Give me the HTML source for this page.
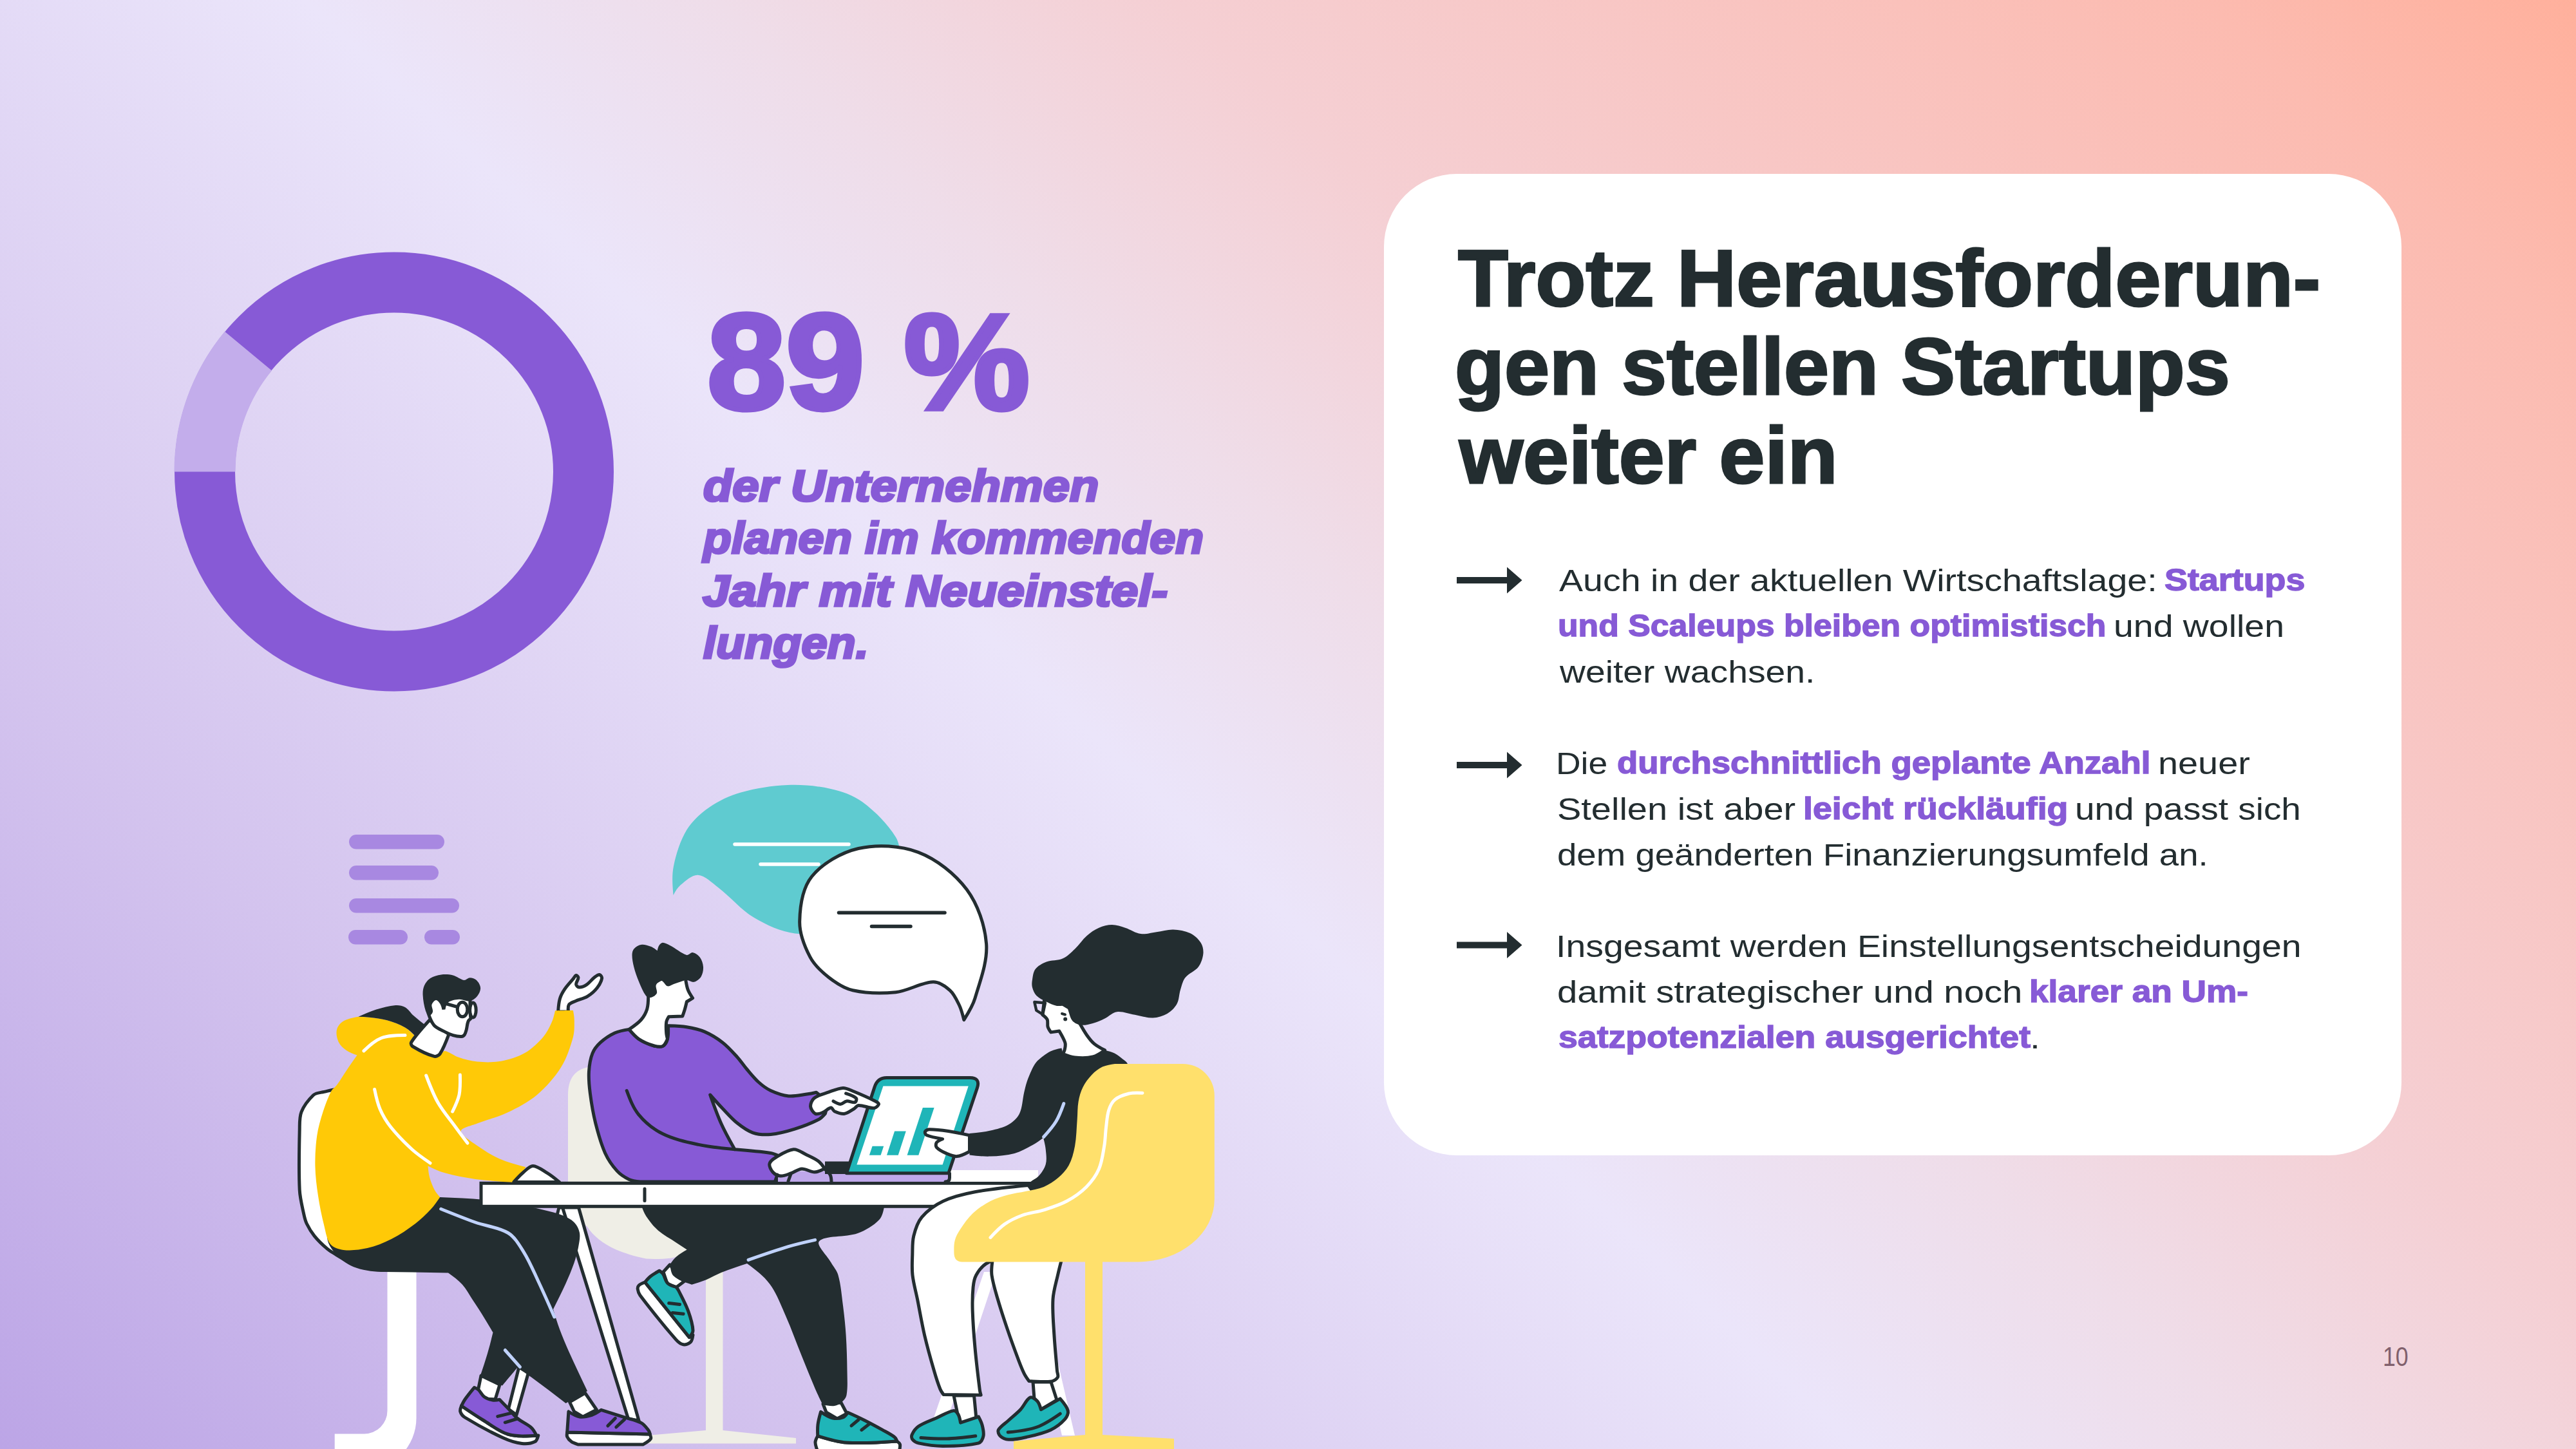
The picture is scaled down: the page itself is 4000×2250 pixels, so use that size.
<!DOCTYPE html>
<html lang="de"><head><meta charset="utf-8"><title>Slide 10</title>
<style>
html,body{margin:0;padding:0;}
body{width:4000px;height:2250px;overflow:hidden;position:relative;font-family:"Liberation Sans",sans-serif;
background:linear-gradient(43deg,#bca5e6 0%,#d3c3ee 20%,#ebe5fa 45%,#efdde9 55%,#f5cfd3 66%,#f9c4c0 80%,#fcbbb0 91%,#ffb09c 100%);}
.card{position:absolute;left:2149px;top:270px;width:1580px;height:1524px;border-radius:113px;background:#fff;}
.t{position:absolute;white-space:nowrap;transform-origin:0 50%;display:block;}
svg{position:absolute;left:0;top:0;}
</style></head><body>
<div class="card"></div>
<svg width="4000" height="2250" viewBox="0 0 4000 2250">
<circle cx="612" cy="732.5" r="294" fill="none" stroke="#875ad6" stroke-width="94"/><path d="M318 732.5A294 294 0 0 1 385.5 545.1" fill="none" stroke="#c3adeb" stroke-width="95"/>
<path d="M2262 896 h82 v10 h-82z" fill="#232d30"/><path d="M2340 880.5 L2363.5 901 L2340 921.5 z" fill="#232d30"/><path d="M2262 1183 h82 v10 h-82z" fill="#232d30"/><path d="M2340 1167.5 L2363.5 1188 L2340 1208.5 z" fill="#232d30"/><path d="M2262 1462.5 h82 v10 h-82z" fill="#232d30"/><path d="M2340 1447 L2363.5 1467.5 L2340 1488 z" fill="#232d30"/>
<rect x="542" y="1296" width="148" height="22.5" rx="11.2" fill="#a888e1"/>
<rect x="542" y="1344" width="139" height="22.5" rx="11.2" fill="#a888e1"/>
<rect x="542" y="1395" width="171" height="22.5" rx="11.2" fill="#a888e1"/>
<rect x="541" y="1444" width="92" height="22.5" rx="11.2" fill="#a888e1"/>
<rect x="659" y="1444" width="55" height="22.5" rx="11.2" fill="#a888e1"/>
<path d="M1045.5 1390C1044.3 1374.7 1043 1359.5 1046 1345C1050 1325.7 1056.3 1305.3 1066.4 1288.6C1074.7 1274.9 1087.9 1263 1101.2 1253.8C1115.9 1243.6 1133.1 1235.5 1150.4 1230.6C1173.7 1223.9 1198.6 1220 1222.9 1219C1245.2 1218.1 1268.3 1220.1 1290 1225C1307 1228.8 1325 1234.8 1338.8 1245.1C1358.7 1259.9 1378.5 1279.4 1391 1300.1C1397.6 1311.1 1398.7 1327.3 1396 1340C1391.7 1360.6 1384.3 1385.1 1370 1400C1352.3 1418.4 1324.8 1431 1300 1440C1279.6 1447.4 1255.7 1451.9 1234.5 1449.4C1212.6 1446.8 1190 1436.3 1170.7 1424.8C1150.4 1412.7 1134.7 1392.9 1115.7 1378.4C1105.8 1370.9 1094.5 1359.5 1083.8 1358.7C1075 1358 1064.8 1367.6 1057 1374C1052 1378.1 1048.8 1384 1045.5 1390Z" fill="#5fcbd0"/>
<path d="M1141 1311L1318 1311" stroke="#ffffff" stroke-width="5.5" stroke-linecap="round" fill="none"/>
<path d="M1181 1342L1271 1342" stroke="#ffffff" stroke-width="5.5" stroke-linecap="round" fill="none"/>
<path d="M1241.7 1430.6C1242.2 1407.5 1246.6 1378.4 1260.6 1361C1277 1340.7 1306.8 1323.5 1333 1317.5C1361.9 1310.9 1398.1 1312.8 1425.8 1323.3C1454.2 1334.1 1483 1356.9 1501.2 1381.3C1518.3 1404.3 1529.4 1436.8 1531.6 1465.4C1533.7 1493 1522.1 1522.6 1514 1550C1510.5 1562 1503.6 1572.8 1496.8 1583.6C1494.9 1575.8 1493 1568.1 1489.6 1561C1485.7 1552.8 1481.7 1543.6 1475.1 1537.8C1468.1 1531.6 1458.2 1524.5 1449 1524.8C1430.1 1525.5 1410.7 1538.6 1391 1540.7C1369.1 1543 1345.5 1542.5 1324.3 1537.8C1310.7 1534.8 1297.8 1526.2 1286.7 1517.5C1275.6 1508.8 1264.1 1498.1 1257.7 1485.7C1249.1 1469.1 1241.3 1449 1241.7 1430.6Z" fill="#ffffff" stroke="#232d30" stroke-width="5" stroke-linejoin="round" stroke-linecap="round"/>
<path d="M1302.5 1417.3L1467 1417.3" stroke="#232d30" stroke-width="5.5" stroke-linecap="round" fill="none"/>
<path d="M1353.5 1438.5L1414 1438.5" stroke="#232d30" stroke-width="5.5" stroke-linecap="round" fill="none"/>
<path d="M530 1694C523.6 1688.2 509.8 1694.5 500 1696C495.4 1696.7 489.9 1697.4 486.6 1700.5C479.2 1707.6 471.8 1717 468 1726.6C464.7 1735 465.4 1745.2 465.2 1754.5C464.5 1785.5 463.7 1816.8 465.2 1847.7C465.8 1860.3 469.1 1872.7 471.7 1885C472.8 1890.1 473.9 1895.3 476.2 1900C479.5 1906.8 483.5 1913.4 488.3 1919.3C494 1926.3 500.7 1932.7 507.6 1938.6C512 1942.4 517.1 1945.2 522 1948.3C529.6 1953 537.3 1957.5 545 1962C545 1962 600 1900 600 1900C600 1900 560 1750 560 1750C551.8 1728.1 543.6 1706.2 530 1694Z" fill="#ffffff" stroke="#232d30" stroke-width="5" stroke-linejoin="round" stroke-linecap="round"/>
<path d="M601.5 1960L646.5 1960L646.5 2202A81 81 0 0 1 565.5 2283L519.7 2283L519.7 2226.5L565.5 2226.5A36 36 0 0 0 601.5 2190.5Z" fill="#fff"/>
<path d="M882 1700Q882 1656 926 1656L1100 1656L1100 1945L1066.7 1940.6C1058 1949 1049 1953 1040.6 1953.7C1030 1955 1015 1955.5 1003.3 1954.6C985 1951 970 1946 956.8 1940.6C935 1930 922 1920 912 1905C895 1890 882 1878 882 1850Z" fill="#efeee6"/>
<rect x="1096" y="1940" width="26.5" height="285" fill="#efeee6"/>
<path d="M1005 2229L1096 2221L1122.5 2221L1236 2233L1236 2241.5L1005 2241.5Z" fill="#efeee6"/>
<path d="M868 1875L893 1875L802 2197L789.5 2188Z" fill="#ffffff" stroke="#232d30" stroke-width="5" stroke-linejoin="round" stroke-linecap="round"/>
<path d="M873.5 1875L898.5 1875L992 2206L975.5 2203Z" fill="#ffffff" stroke="#232d30" stroke-width="5" stroke-linejoin="round" stroke-linecap="round"/>
<path d="M747 2136L742.5 2158L752 2172L769 2173L776 2150Z" fill="#ffffff" stroke="#232d30" stroke-width="5" stroke-linejoin="round" stroke-linecap="round"/>
<path d="M716.5 2183C715.2 2186.2 714 2189.3 714.8 2192C715.8 2195.3 718.8 2199 722 2201C741 2212.6 761.1 2223.5 781.4 2232.8C790.5 2237 800.6 2240.3 810.4 2241.5C817 2242.3 825.2 2241.3 830.7 2238.6C833.6 2237.2 834.7 2233.1 835.8 2229C819.6 2230.1 803.4 2231.1 788.7 2227C774.8 2223.1 762.7 2212.7 750 2205C738.6 2198.1 727.5 2190.5 716.5 2183Z" fill="#ffffff" stroke="#232d30" stroke-width="5" stroke-linejoin="round" stroke-linecap="round"/>
<path d="M736.5 2154.5C731.5 2160.6 726.5 2166.6 722 2173C719.8 2176.1 718.2 2179.6 716.5 2183C727.5 2190.5 738.6 2198.1 750 2205C762.7 2212.7 774.8 2223 788.7 2227C802.5 2231 817.8 2230 833 2229C830.8 2224.5 828.6 2220 825 2216.8C818.6 2211.1 809.9 2207.8 803.2 2202.3C798.2 2198.2 794.5 2192.7 790 2188C785.3 2183 780.5 2178.2 775.7 2173.3C772.1 2174 768.4 2174.6 765 2174C760.5 2173.2 755.6 2171.6 752 2169C748.3 2166.3 746.4 2161.2 743 2158C741.2 2156.3 738.9 2155.4 736.5 2154.5Z" fill="#875ad6" stroke="#232d30" stroke-width="5" stroke-linejoin="round" stroke-linecap="round"/>
<path d="M772.8 2199.4L796 2193.6" stroke="#232d30" stroke-width="5" stroke-linecap="round" fill="none"/>
<path d="M784.3 2208.8L803.2 2203" stroke="#232d30" stroke-width="5" stroke-linecap="round" fill="none"/>
<path d="M683 1859C706 1859.9 729.1 1860.8 752 1863C770.8 1864.8 789.4 1867.8 808 1871C820.4 1873.1 832.8 1876 845 1879C854.4 1881.3 864.1 1883.4 873 1887C879.6 1889.7 886.7 1893.1 891.5 1898C895.7 1902.2 899 1908.6 900 1914.5C901.2 1921.6 899.3 1929.6 898 1937C896.5 1945.1 894.2 1953.2 891.5 1961C887.7 1971.9 883.2 1982.5 878.5 1993C872.4 2006.5 865.7 2019.8 859 2033C862.1 2043.4 865.2 2053.8 869 2064C873.2 2075.5 878 2086.8 883 2098C892.3 2118.8 902.2 2139.4 912 2160C912 2160 878.6 2179 878.6 2179C860.8 2165.4 843.1 2151.8 825 2138.6C817.9 2133.4 810.4 2128.7 803 2124C803 2124 780 2151.6 780 2151.6C780 2151.6 746 2135.7 746 2135.7C749.8 2124.6 753.5 2113.5 756.8 2102.3C760 2091.3 762.8 2080.1 765.5 2069C759.7 2059.3 754 2049.6 748 2040C743.1 2032.2 738.1 2024.6 733 2017C728.1 2009.5 724 2001.2 718 1994.7C711.6 1987.7 703.8 1982.1 696 1976.5C677.3 1976.1 658.7 1975.8 640 1975.5C625.7 1975.3 611.3 1975.4 597 1975C589.8 1974.8 582.5 1974.7 575.3 1973.7C568 1972.7 560.5 1971.2 553.5 1968.8C547.6 1966.8 541.8 1963.8 536.6 1960.4C531.3 1957 526.1 1953 522 1948.3C517.2 1942.9 512.8 1936.6 510 1930C508.1 1925.5 508 1920 508 1915C508 1903.4 509 1891.7 510 1880C510 1880 560 1820 560 1820C560 1820 640 1830 640 1830C640 1830 683 1859 683 1859Z" fill="#232d30"/>
<path d="M684.7 1877.3C702.4 1884.4 720.1 1891.6 738 1898C754.8 1904 774.4 1905.5 789 1914.5C799.5 1920.9 806.5 1933.5 813.3 1944.3C822.1 1958.3 828.5 1973.9 835.6 1989C844.3 2007.5 852.6 2026.3 860.8 2045" fill="none" stroke="#c0d2fb" stroke-width="5" stroke-linejoin="round" stroke-linecap="round"/>
<path d="M784.3 2096.5L807.5 2122.6" stroke="#c0d2fb" stroke-width="5" stroke-linecap="round" fill="none"/>
<path d="M884.5 2177L891.6 2192L905 2200L926.4 2189L908.5 2163Z" fill="#ffffff" stroke="#232d30" stroke-width="5" stroke-linejoin="round" stroke-linecap="round"/>
<path d="M880.7 2224C880.3 2226.5 879.8 2229 880.7 2231C882 2233.9 884.6 2236.7 887.2 2238.6C890.1 2240.7 893.8 2241.8 897.4 2242.9C897.4 2242.9 998.8 2242.9 998.8 2242.9C1003.5 2240.3 1008.1 2237.7 1010.4 2234.2C1011.5 2232.4 1010.3 2229.7 1009 2227C1009 2227 880.7 2224 880.7 2224Z" fill="#ffffff" stroke="#232d30" stroke-width="5" stroke-linejoin="round" stroke-linecap="round"/>
<path d="M882.9 2192C882.9 2192 880.7 2224 880.7 2224C880.7 2224 1009.5 2227 1009.5 2227C1008.9 2224.8 1008.3 2222.7 1007 2221C1003.8 2216.9 1000.5 2212 996 2209.6C988.2 2205.3 978.6 2203.7 969.9 2200.9C957.8 2197 945.7 2193.1 933.6 2189.3C928.9 2192.5 924.2 2195.6 919 2197.3C913 2199.2 906.1 2200.9 900 2200C894 2199.1 888.5 2195.6 882.9 2192Z" fill="#875ad6" stroke="#232d30" stroke-width="5" stroke-linejoin="round" stroke-linecap="round"/>
<path d="M943.8 2214L955.4 2202.3" stroke="#232d30" stroke-width="5" stroke-linecap="round" fill="none"/>
<path d="M956.8 2216L969.9 2203.8" stroke="#232d30" stroke-width="5" stroke-linecap="round" fill="none"/>
<path d="M1040 1964L1030 1975L1036 1993L1050 1999L1062 1990Z" fill="#ffffff" stroke="#232d30" stroke-width="5" stroke-linejoin="round" stroke-linecap="round"/>
<path d="M1001.5 1991C997.9 1992.3 994.4 1993.7 992 1996C990.6 1997.3 990 2000 990.3 2002C990.7 2005.2 992 2008.7 994 2011.4C1011.8 2034.9 1030.5 2058.3 1049.9 2080.4C1052.8 2083.7 1057.1 2087.2 1061.1 2087.8C1064.6 2088.4 1069.8 2086.5 1072.3 2084C1074.8 2081.6 1075.4 2077.3 1076 2073C1076 2073 1070.4 2076.6 1070.4 2076.6C1070.4 2076.6 1001.5 1991 1001.5 1991Z" fill="#ffffff" stroke="#232d30" stroke-width="5" stroke-linejoin="round" stroke-linecap="round"/>
<path d="M1023.8 1973.2C1019 1975.9 1014.2 1978.6 1010 1982C1006.8 1984.6 1004.1 1987.8 1001.5 1991C1001.5 1991 1070.4 2076.6 1070.4 2076.6C1073.3 2073.2 1076.2 2069.8 1076 2066C1075.6 2056.2 1072.1 2045.4 1068.6 2035.7C1064.7 2024.8 1058.9 2014.4 1053.7 2004C1052.7 2002 1051.3 2000.2 1049.9 1998.4C1045 1997.2 1040 1995.9 1036.9 1992.8C1033.2 1989.1 1032.4 1982.4 1029.4 1977.9C1028.1 1975.9 1025.9 1974.6 1023.8 1973.2Z" fill="#1fb5b8" stroke="#232d30" stroke-width="5" stroke-linejoin="round" stroke-linecap="round"/>
<path d="M1038.7 2023.5L1055.5 2025.4" stroke="#232d30" stroke-width="5" stroke-linecap="round" fill="none"/>
<path d="M1044.3 2038.4L1061.1 2040.3" stroke="#232d30" stroke-width="5" stroke-linecap="round" fill="none"/>
<path d="M1278 2180L1283 2193L1300 2203L1315 2195L1306 2178Z" fill="#ffffff" stroke="#232d30" stroke-width="5" stroke-linejoin="round" stroke-linecap="round"/>
<path d="M1269.8 2229.7C1267.8 2233.1 1265.9 2236.5 1266 2240C1266.2 2245.3 1268.4 2250.6 1270.7 2256C1270.7 2256 1395.6 2256 1395.6 2256C1396.9 2251.5 1398.1 2246.9 1397.5 2243C1397.2 2240.9 1395 2239.5 1392.8 2238C1366.6 2239.9 1340.4 2241.7 1314.5 2240C1299.4 2239 1284.6 2234.3 1269.8 2229.7Z" fill="#ffffff" stroke="#232d30" stroke-width="5" stroke-linejoin="round" stroke-linecap="round"/>
<path d="M1274.5 2192.4C1272.7 2198.9 1270.8 2205.4 1270 2212C1269.3 2217.8 1269.5 2223.8 1269.8 2229.7C1284.6 2234.3 1299.4 2239 1314.5 2240C1340.4 2241.7 1366.7 2239.9 1393 2238C1392 2235.5 1391 2233 1389 2231.5C1383.4 2227.2 1376.7 2223.9 1370.4 2220.4C1361.2 2215.3 1351.9 2210.2 1342.5 2205.5C1333.9 2201.2 1325.2 2197.2 1316.4 2193.3C1314.3 2196.5 1312.1 2199.7 1309 2200.8C1304 2202.5 1297.5 2203 1292.2 2201.7C1286 2200.2 1280.2 2196.3 1274.5 2192.4Z" fill="#1fb5b8" stroke="#232d30" stroke-width="5" stroke-linejoin="round" stroke-linecap="round"/>
<path d="M1322 2213.8L1333.2 2204.5" stroke="#232d30" stroke-width="5" stroke-linecap="round" fill="none"/>
<path d="M1337.8 2220.4L1350 2211" stroke="#232d30" stroke-width="5" stroke-linecap="round" fill="none"/>
<path d="M996 1872C998 1877.7 1000 1883.5 1003.3 1888.4C1008.7 1896.4 1014.8 1904.4 1022 1910.8C1030.3 1918.1 1040.6 1923.2 1049.9 1929.4C1055.5 1933.1 1061.1 1936.9 1066.7 1940.6C1060.8 1944 1055 1947.5 1049.9 1951.8C1046.3 1954.9 1043.4 1959 1040.6 1963C1041.2 1970.3 1041.9 1977.5 1046.2 1981.6C1053.1 1988.1 1063.6 1991.4 1074.2 1994.7C1081.7 1992.4 1089.3 1990.2 1096.5 1987.2C1104.5 1983.9 1111.9 1979.2 1120 1976C1133.1 1970.8 1146.6 1966.4 1160 1962C1173 1971.6 1186 1981.2 1195.2 1993.7C1206 2008.3 1212.6 2026.5 1220.1 2043.4C1229.1 2063.7 1236.5 2084.8 1244.9 2105.5C1251.8 2122.7 1258.7 2140 1266 2157C1269.5 2165.1 1273.4 2173.1 1277.3 2181C1283.6 2182.4 1289.9 2183.7 1295.9 2183C1299.8 2182.5 1304 2180.2 1307 2177.5C1310.2 2174.6 1313.7 2170.6 1314.5 2166.3C1316.6 2154.4 1315.6 2141.4 1315.5 2129C1315.3 2110.4 1314.8 2091.8 1313.6 2073.2C1312.6 2057.6 1310.9 2042.1 1308.9 2026.6C1306.9 2011 1305.7 1994.9 1301.5 1980C1299.5 1972.9 1294.1 1967.1 1290.5 1960.6C1284.3 1949.6 1266.7 1933.2 1272 1927.4C1280.5 1918 1313 1921.7 1331.9 1915C1344 1910.7 1356.4 1903.2 1365 1894.3C1370.2 1888.9 1371.8 1880.4 1373.3 1872C1373.3 1872 996 1872 996 1872Z" fill="#232d30"/>
<path d="M1162.1 1956.4C1182.7 1949.2 1203.3 1942 1224.2 1935.7C1237.8 1931.6 1251.7 1928.5 1265.6 1925.4" fill="none" stroke="#c0d2fb" stroke-width="5" stroke-linejoin="round" stroke-linecap="round"/>
<rect x="747" y="1837.3" width="862" height="36" fill="#fff" stroke="#232d30" stroke-width="5"/>
<path d="M1001 1846L1001 1864.5" stroke="#232d30" stroke-width="5" stroke-linecap="round" fill="none"/>
<rect x="1475" y="1817" width="137" height="18" fill="#fff"/>
<path d="M866.6 1571C867.1 1564.1 867.5 1557.2 869.4 1550.8C870.9 1545.5 873.8 1540.5 876.9 1535.9C880.7 1530.3 885.6 1525.4 889.9 1520.1C891.5 1518.2 893 1514.9 894.6 1514.5C895.7 1514.2 898 1516.6 898 1518C898 1521.2 894.4 1525.3 894.6 1528.4C894.8 1530.3 897.3 1533 899.2 1533.1C902.6 1533.3 907.2 1531.5 910.4 1529.4C915.3 1526.2 918.8 1520.9 923.5 1517.3C925.7 1515.6 928.9 1513.2 930.9 1513.5C932.6 1513.8 935 1517.1 934.6 1519.1C933.7 1524 930.6 1529.7 927.2 1534C923.2 1539.1 917.9 1543.7 912.3 1547.1C906.7 1550.5 899.7 1551.8 893.6 1554.5C890.1 1556.1 885.3 1557.3 883.4 1560.1C881.6 1562.8 882.1 1566.9 882.5 1571C882.5 1571 866.6 1571 866.6 1571Z" fill="#ffffff" stroke="#232d30" stroke-width="5" stroke-linejoin="round" stroke-linecap="round"/>
<path d="M690.6 1631.9C697.6 1632.9 705.2 1639.5 712.9 1642.1C721.9 1645.1 731.4 1647.8 740.9 1648.6C753.2 1649.7 766.1 1649.9 778.1 1647.7C790.9 1645.3 804.2 1641.1 815.4 1634.7C825.9 1628.7 835.3 1619.5 843.3 1610.4C848.9 1604 852.8 1595.9 856.4 1588.1C859.1 1582.2 860.5 1575.8 862 1569.4C862 1569.4 889.9 1569.1 889.9 1569.1C890.8 1574.2 891.8 1579.2 891.8 1584.3C891.8 1593 892.2 1602.1 889.9 1610.4C885.4 1626.3 880 1643 871.3 1657C861.4 1672.8 848.3 1687.8 834 1699.9C820.4 1711.4 803.7 1720 787.5 1727.8C772.7 1734.9 756.2 1738.5 740.9 1744.6C732.3 1748 716.2 1751.3 715.8 1756.4C715.3 1762 729.9 1771 738.1 1776.9C749.8 1785.3 762.3 1793.4 775.4 1799.3C788.4 1805.2 802.4 1808.7 816.4 1812.3C816.4 1812.3 800 1836 800 1836C779.3 1834.8 758.6 1833.6 738.1 1830.9C722.4 1828.8 706.7 1825.8 691.5 1821.6C682.2 1819 673.3 1814.7 664.5 1810.4C665.1 1816.7 665.6 1823 667.3 1829C669.1 1835.4 671.7 1841.8 674.8 1847.7C677 1851.8 680.1 1855.3 683.2 1858.9C678.8 1865.4 674.5 1871.8 669.2 1877.5C661.7 1885.5 653.7 1893.3 645 1899.9C633.2 1908.8 620.8 1917.4 607.7 1924.1C595.9 1930.1 583.2 1935.2 570.4 1938.1C558.4 1940.8 545.2 1942.3 533.2 1940.9C526 1940.1 517 1936.9 512.7 1931.5C507.1 1924.5 505.8 1913.1 503.4 1903.6C499.5 1888.3 496.4 1872.7 494 1857C491.7 1841.6 489.7 1826 489.4 1810.4C489.1 1794.9 490 1779.1 492.2 1763.8C494 1751.2 497.6 1738.7 501.5 1726.6C505.1 1715.5 509.2 1704.3 514.5 1694C516.4 1690.4 520.5 1688.3 522.9 1685C529.5 1676 535.2 1666.3 541.5 1657C545.7 1650.7 550.1 1644.6 554.5 1638.4C548.6 1636.4 542.7 1634.4 537.8 1630.9C533.1 1627.5 528.1 1623 525.7 1617.9C523.1 1612.5 521.7 1605 522.9 1599.3C523.9 1594.4 527.9 1588.9 532.2 1586.2C539 1582 547.7 1580.4 556.4 1578.8C562 1578.9 567.6 1579 573.2 1579.7C582.5 1580.8 592.1 1581.7 601.1 1584.3C610.7 1587 620.4 1590.6 629 1595.5C634.7 1598.7 639.3 1603.7 644 1608.6C644 1608.6 636 1621 636 1621C638.7 1624.5 641.3 1628 645 1630C653.9 1635 664.2 1640 673.8 1642C677.2 1642.7 680.9 1639.8 684 1638C686.5 1636.5 688 1631.5 690.6 1631.9Z" fill="#ffc907"/>
<path d="M556.4 1578.8C565.6 1574.7 574.8 1570.5 584.3 1567.6C594 1564.6 604.2 1561.8 614.2 1561C619.1 1560.6 624.8 1561.5 629 1563.9C634.1 1566.8 637.5 1572.8 642.1 1576.9C648.5 1582.5 655.2 1587.8 662 1593C662 1593 646 1610 646 1610C640.7 1604.6 635.4 1599.2 629 1595.5C620.4 1590.6 610.7 1587 601.1 1584.3C592.1 1581.7 582.5 1580.8 573.2 1579.7C567.6 1579 562 1578.9 556.4 1578.8Z" fill="#232d30"/>
<path d="M564.8 1631.9C573.2 1623.9 581.7 1615.8 591.8 1612C603.1 1607.7 616 1607.7 629 1607.6" fill="none" stroke="#ffffff" stroke-width="5" stroke-linejoin="round" stroke-linecap="round"/>
<path d="M661.7 1670C667.1 1684.4 672.5 1698.8 680 1712C687.7 1725.5 698.1 1737.4 707.3 1750C713.4 1758.4 719.7 1766.7 726 1775" fill="none" stroke="#ffffff" stroke-width="5" stroke-linejoin="round" stroke-linecap="round"/>
<path d="M714.4 1669.1C714.7 1679.6 715 1690 713 1700C711.1 1709 706.9 1717.5 702.7 1726" fill="none" stroke="#ffffff" stroke-width="5" stroke-linejoin="round" stroke-linecap="round"/>
<path d="M581.6 1691.5C583.7 1701.9 585.9 1712.4 590 1722C594.2 1731.9 600 1741.5 606.7 1750C616.7 1762.5 628.2 1774.2 640 1785C648.6 1792.8 658.3 1799.4 668 1806" fill="none" stroke="#ffffff" stroke-width="5" stroke-linejoin="round" stroke-linecap="round"/>
<path d="M667 1584C656.5 1595.5 645.9 1606.9 638.4 1618.8C637.3 1620.6 639.1 1623.9 641 1625C650.9 1631 662.8 1637.2 673.8 1640.2C676.8 1641 681.3 1639.1 683.1 1636.5C689.1 1627.7 693 1616.9 697 1606C697 1606 667 1584 667 1584Z" fill="#ffffff" stroke="#232d30" stroke-width="5" stroke-linejoin="round" stroke-linecap="round"/>
<path d="M664.5 1572C666.9 1579.2 669.3 1586.4 673.8 1591.8C677.4 1596.1 683.5 1598.4 688.7 1601.1C693.5 1603.6 698.5 1606.1 703.6 1607.6C707.8 1608.9 712.4 1609.7 716.6 1609.5C718.3 1609.4 720.3 1608.1 721.3 1606.7C722.8 1604.7 723.4 1601.8 724.1 1599.3C725.3 1595 725.3 1590.2 726.9 1586.2C727.6 1584.3 729.3 1582.9 731 1581.5C730.6 1578.3 730.1 1575.2 730 1572C729.8 1565.3 729.9 1558.7 730 1552C730 1552 700 1540 700 1540C700 1540 668 1550 668 1550C668 1550 664.5 1572 664.5 1572Z" fill="#ffffff" stroke="#232d30" stroke-width="5" stroke-linejoin="round" stroke-linecap="round"/>
<path d="M656.6 1545.2C656.3 1540.2 656.9 1534.7 658.9 1530.3C660.8 1526 664.3 1521.6 668.2 1519.1C673 1516 679.2 1514.2 685 1513.5C691 1512.7 697.7 1513.1 703.6 1514.5C709.5 1515.9 714.8 1521.1 720.4 1521.9C723.5 1522.3 726.6 1518.2 729.7 1518.2C733.1 1518.2 737.5 1519.6 739.9 1521.9C742.9 1524.8 745.9 1529.9 746.1 1534C746.3 1538.3 743.7 1543.6 740.9 1547.1C738.2 1550.4 733.8 1553.8 729.7 1554.5C724.5 1555.4 718.4 1551.4 712.9 1551.7C707.2 1552 700.3 1553.3 696.1 1556.4C693.2 1558.6 692.3 1563.1 691.5 1567.6C691.5 1567.6 686.5 1568 686.5 1568C685.7 1564.5 684.9 1561.1 683.1 1558.3C681.7 1556.1 678.9 1552.7 677 1553C674.7 1553.3 671.3 1557.2 670.5 1560C669.6 1563.2 672.7 1567.6 672 1571C671.5 1573.6 669.2 1575.8 667 1578C664.5 1575.6 662 1573.1 661 1570C658.5 1562.2 657 1553.5 656.6 1545.2Z" fill="#232d30"/>
<ellipse cx="718" cy="1567.5" rx="7.8" ry="11.3" fill="#fff" stroke="#232d30" stroke-width="5"/>
<ellipse cx="734.4" cy="1568.5" rx="4.8" ry="11.5" fill="#fff" stroke="#232d30" stroke-width="5"/>
<path d="M692.4 1558.5L710 1563.5" stroke="#232d30" stroke-width="5" stroke-linecap="round" fill="none"/>
<path d="M797.8 1835.5C802.3 1830.4 806.9 1825.3 812 1821C816.8 1817 822.2 1810.3 827.6 1810.4C834.8 1810.5 842.9 1817.3 850 1821.6C856.6 1825.6 862.6 1830.6 868.6 1835.5C868.6 1835.5 797.8 1835.5 797.8 1835.5Z" fill="#ffffff" stroke="#232d30" stroke-width="5" stroke-linejoin="round" stroke-linecap="round"/>
<path d="M976.9 1598.4C969.1 1599.6 961.4 1600.8 954.5 1604C946.5 1607.7 938.7 1613 932.2 1618.9C927.2 1623.5 922.5 1629.3 920 1635.6C916.6 1644.2 915.1 1654.2 914.5 1663.6C913.8 1674.7 914.9 1686.2 916.3 1697.3C918.3 1712.9 920.9 1728.6 924.7 1743.8C928.7 1759.6 933 1775.7 939.6 1790.4C944.2 1800.5 950.9 1810.2 958.3 1818.4C963.3 1823.9 970.2 1828.3 976.9 1831.4C982.4 1833.9 988.7 1834.4 995 1835C995 1835 1206 1835 1206 1835C1209.3 1828.4 1212.7 1821.8 1213 1815C1213.3 1808.2 1210.7 1801.2 1208 1794.2C1204.3 1792.6 1200.7 1790.9 1196.8 1790.4C1178.3 1787.8 1159.6 1786.3 1140.9 1784.8C1133.5 1771.7 1126.1 1758.6 1120 1745C1113.4 1730.4 1108.1 1715.2 1102.7 1700C1109.1 1707.3 1115.5 1714.5 1122.2 1721.5C1129.5 1729.1 1136.4 1737.3 1144.6 1743.8C1152 1749.7 1160 1755.8 1168.8 1758.8C1177.4 1761.7 1187.6 1762.3 1196.8 1761.5C1209.3 1760.4 1221.9 1757 1234 1753.2C1246.7 1749.2 1259.5 1744.3 1271.3 1738.3C1275.3 1736.2 1278.4 1732.6 1281.5 1729C1283.3 1722.9 1285 1716.8 1283 1712C1280.4 1705.9 1274 1701.1 1267.6 1696.3C1262.7 1697.4 1257.7 1698.4 1252.7 1699.1C1243.4 1700.3 1233.9 1702.8 1224.7 1701.9C1215.2 1701 1205.5 1697.5 1196.8 1693.5C1190 1690.4 1183.7 1685.5 1178.1 1680.5C1171.3 1674.4 1165.5 1667 1159.5 1660C1154.3 1653.9 1150 1647.1 1144.6 1641.2C1137.5 1633.4 1130.5 1625.3 1122.2 1618.9C1113.7 1612.3 1104.2 1606.4 1094.3 1602.1C1085.5 1598.3 1075.8 1596.2 1066.3 1594.7C1056.8 1593.1 1047.1 1593 1037.4 1592.8C1037.8 1599.9 1038.2 1606.9 1036.5 1613.3C1035.4 1617.5 1032.5 1622.9 1029 1624.5C1025.1 1626.3 1018.9 1624.9 1014.2 1623.5C1006.5 1621.2 998.5 1617.8 991.8 1613.3C986.1 1609.4 981.5 1603.9 976.9 1598.4Z" fill="#875ad6" stroke="#232d30" stroke-width="5" stroke-linejoin="round" stroke-linecap="round"/>
<path d="M973.2 1693.5C978.2 1706.9 983.1 1720.4 991.8 1730.8C1001.7 1742.7 1015 1753.6 1029 1760.6C1046.1 1769.2 1066 1773.3 1085 1777.4C1103.3 1781.4 1122.1 1783.1 1140.9 1784.8" fill="none" stroke="#232d30" stroke-width="5" stroke-linejoin="round" stroke-linecap="round"/>
<path d="M1006.7 1546C1006.7 1553.1 1006.7 1560.2 1004.8 1566.7C1003 1572.7 999.6 1578.8 995.5 1583.5C990.3 1589.4 983.6 1593.9 976.9 1598.4C981.5 1603.9 986.1 1609.4 991.8 1613.3C998.5 1617.8 1006.5 1621.2 1014.2 1623.5C1018.9 1624.9 1025.1 1626.3 1029 1624.5C1032.5 1622.9 1034.5 1618.1 1036.5 1613.3C1035.7 1610.2 1034.9 1607.1 1034.7 1604C1034.3 1598.4 1033.9 1592.6 1034.7 1587.2C1035.1 1584.2 1036.8 1581.5 1038.4 1578.8C1038.4 1578.8 1059.8 1577.9 1059.8 1577.9C1061.1 1574.2 1062.4 1570.5 1063.5 1566.7C1064.6 1563 1065.4 1559.3 1066.3 1555.5C1066.3 1555.5 1075.6 1549.9 1075.6 1549.9C1072.8 1545.7 1069.9 1541.5 1068.2 1536.9C1066.2 1531.6 1065.4 1525.8 1064.5 1520C1064.5 1520 1040 1512 1040 1512C1040 1512 1010 1530 1010 1530C1010 1530 1006.7 1546 1006.7 1546Z" fill="#ffffff" stroke="#232d30" stroke-width="5" stroke-linejoin="round" stroke-linecap="round"/>
<path d="M981.5 1482.9C981.5 1479.7 982.3 1475.8 984.3 1473.5C987 1470.5 991.5 1467.6 995.5 1467C1000.2 1466.3 1005.7 1468.1 1010.4 1469.8C1014.1 1471.2 1017.4 1473.7 1020.7 1476.3C1021.3 1473.3 1022 1470.3 1023.5 1468C1024.7 1466.1 1027 1463.7 1029 1463.7C1032.5 1463.7 1036.7 1466.2 1040.2 1468C1049.1 1472.6 1057.5 1480.1 1066.3 1482.9C1069.3 1483.8 1072.7 1478.6 1075.6 1479.1C1079.5 1479.8 1084.3 1483.2 1086.8 1486.6C1089.7 1490.6 1091.7 1496.5 1092 1501.5C1092.3 1506.4 1091.2 1512.3 1088.7 1516.4C1086.4 1520.1 1081.6 1523.8 1077.5 1524.8C1074.1 1525.6 1070 1521.7 1066.3 1522C1060.1 1522.6 1053.9 1525.7 1047.7 1527.6C1043.9 1528.8 1039.8 1532.1 1036.5 1531.3C1033 1530.5 1030.4 1523.2 1027.2 1522.9C1024.5 1522.6 1019.9 1526.5 1018.8 1529.4C1017.4 1533 1021.3 1539 1019.8 1542.5C1018.5 1545.5 1013.7 1548.3 1010.4 1549C1008.1 1549.5 1004.5 1548.2 1003 1546.2C998.3 1539.8 995 1531.5 991.8 1523.8C988.8 1516.6 986.2 1509.1 984.3 1501.5C982.8 1495.4 981.5 1489 981.5 1482.9Z" fill="#232d30"/>
<path d="M1208 1819L1300 1819L1300 1822L1474.5 1822L1474.5 1829Q1474.5 1835 1468 1835L1208 1835Z" fill="#bfa8ea"/>
<path d="M1474.5 1822L1474.5 1829Q1474.5 1835 1468 1835" fill="none" stroke="#232d30" stroke-width="5" stroke-linecap="round"/>
<rect x="1281" y="1803.5" width="50" height="19.5" fill="#232d30"/>
<path d="M1314.5 1821.7L1358 1688Q1362.5 1673.5 1377 1673.5L1506 1673.5Q1522.5 1673.5 1517.5 1689L1472.9 1821.7Z" fill="#1fb5b8" stroke="#232d30" stroke-width="5" stroke-linejoin="round"/>
<path d="M1371.4 1686.6L1503.7 1686.6L1463.6 1808.6L1330.4 1808.6Z" fill="#ffffff"/>
<path d="M1349.9 1793.7L1367.6 1793.7L1372.2 1779.7L1354.6 1779.7Z" fill="#1fb5b8"/>
<path d="M1377 1793.7L1394.7 1793.7L1406.8 1756.5L1389.1 1756.5Z" fill="#1fb5b8"/>
<path d="M1408.6 1793.7L1426.3 1793.7L1450.6 1720.1L1432.9 1720.1Z" fill="#1fb5b8"/>
<path d="M1194.9 1807.2C1195.8 1803.3 1201 1799.4 1205 1797C1213.4 1792 1223.1 1785.6 1232.2 1784.8C1238.8 1784.2 1245.6 1789.9 1252 1793C1258.6 1796.2 1265.6 1799.1 1271.3 1803.5C1275.1 1806.4 1277.8 1810.5 1280.6 1814.7C1275.4 1817.3 1270.3 1820 1265 1820C1258.4 1820.1 1251.5 1814.6 1245 1815C1239.2 1815.3 1233.8 1820.1 1228 1822C1222.8 1823.7 1217.1 1826.4 1212 1826C1207.8 1825.7 1202.8 1823.1 1200 1820C1197.1 1816.8 1194.1 1811 1194.9 1807.2Z" fill="#ffffff" stroke="#232d30" stroke-width="5" stroke-linejoin="round" stroke-linecap="round"/>
<path d="M1207 1824C1207 1824 1204 1833 1204 1833" fill="none" stroke="#232d30" stroke-width="5" stroke-linejoin="round" stroke-linecap="round"/>
<path d="M1228 1823C1228 1823 1224 1834 1224 1834" fill="none" stroke="#232d30" stroke-width="5" stroke-linejoin="round" stroke-linecap="round"/>
<path d="M1280 1815C1283.5 1817.7 1287 1820.5 1289 1824C1290.7 1827.1 1290.9 1831.1 1291 1835" fill="none" stroke="#232d30" stroke-width="5" stroke-linejoin="round" stroke-linecap="round"/>
<path d="M1258.6 1718.3C1258.3 1714.1 1260.7 1708 1264.2 1705.2C1270.1 1700.5 1279 1698.6 1286.6 1695.9C1293.9 1693.3 1301.5 1689.8 1308.9 1689.4C1313.9 1689.1 1319 1692 1323.8 1694C1335.8 1698.9 1347.8 1704.1 1359.3 1709.9C1361.4 1710.9 1364.8 1713 1364.5 1714.5C1364.1 1716.5 1360.3 1720.4 1357.4 1720.6C1349.8 1721.1 1340.9 1716.1 1333.2 1716.4C1330.3 1716.5 1328.4 1720.4 1325.7 1722C1320.9 1724.8 1316 1728.8 1310.8 1729.4C1306 1730 1300.4 1727.7 1295.9 1725.7C1293.6 1724.6 1292.4 1719.9 1290.3 1720.1C1286.2 1720.5 1281.9 1725.8 1277.3 1727.6C1273.8 1728.9 1269 1730.8 1266.1 1729.4C1262.7 1727.7 1258.9 1722.2 1258.6 1718.3Z" fill="#ffffff" stroke="#232d30" stroke-width="5" stroke-linejoin="round" stroke-linecap="round"/>
<path d="M1313.6 1697.8C1319.8 1699.8 1326 1701.9 1329.4 1705.2C1330.7 1706.5 1329.3 1711.2 1327.6 1711.7C1324.3 1712.7 1318.7 1709.4 1314.5 1709.9C1311.2 1710.3 1308.4 1714.5 1305.2 1714.5C1301.5 1714.5 1297.8 1712.2 1294 1709.9" fill="none" stroke="#232d30" stroke-width="5" stroke-linejoin="round" stroke-linecap="round"/>
<path d="M1528 1975L1547 1975L1468 2213L1446 2213Z" fill="#ffffff"/>
<path d="M1590 1975L1610 1975L1669 2229L1649 2229Z" fill="#ffffff"/>
<path d="M1650.4 1636.4C1650.4 1636.4 1648.5 1627.5 1648.5 1627.5C1645 1628.2 1641.4 1628.9 1638 1630C1634.7 1631.1 1631.3 1632.3 1628.3 1634C1624.9 1635.9 1621.7 1638.3 1618.6 1640.8C1615.2 1643.5 1611.7 1646.2 1609 1649.5C1606.1 1653.1 1604 1657.3 1602 1661.5C1599.2 1667.5 1596.6 1673.7 1594.5 1680C1592.7 1685.2 1591.6 1690.6 1590.3 1695.9C1587.7 1707 1587.7 1719.5 1582.9 1729.4C1579.6 1736.3 1572.8 1742.3 1566.1 1746.2C1557.8 1751 1547.6 1753.3 1538.1 1755.5C1527.4 1757.9 1516.5 1759 1505.5 1760C1505.5 1760 1505.5 1793.5 1505.5 1793.5C1516.4 1794.8 1527.3 1796 1538.1 1795.6C1550.6 1795.1 1563.4 1794.1 1575.4 1790.9C1585.2 1788.2 1594.4 1782.8 1603.4 1777.9C1609.3 1774.7 1614.7 1770.7 1620.1 1766.7C1621.7 1772.9 1623.2 1779 1623.8 1785.3C1624.5 1792.7 1625.7 1800.8 1623.8 1807.7C1622 1814.4 1617.4 1821 1612.7 1826.3C1608.7 1830.9 1601.5 1832.9 1597.8 1837.5C1595.2 1840.8 1594.6 1845.4 1594 1850C1594 1850 1700 1850 1700 1850C1700 1850 1760 1700 1760 1700C1757.7 1683.7 1755.5 1667.3 1751 1652.2C1750 1648.9 1746.3 1647 1743.6 1644.8C1739.5 1641.4 1735.3 1637.9 1730.6 1635.5C1726 1633.2 1720.8 1632 1715.6 1630.8C1709.6 1635.1 1703.7 1639.4 1697 1641C1688.2 1643.1 1678.2 1642.9 1669.1 1642C1662.7 1641.4 1656.6 1638.9 1650.4 1636.4Z" fill="#232d30"/>
<path d="M1651.8 1713.6C1648.4 1723.1 1645.1 1732.6 1640 1741C1634.7 1749.9 1627.6 1757.7 1620.5 1765.5" fill="none" stroke="#c0d2fb" stroke-width="5" stroke-linejoin="round" stroke-linecap="round"/>
<path d="M1621.6 1553C1621.6 1553 1618.8 1575.8 1618.8 1575.8C1621.8 1578 1624.9 1580.3 1626.2 1583.3C1627.6 1586.5 1626.1 1591 1627.1 1594.5C1628 1597.5 1629.9 1600.2 1631.8 1602.9C1631.8 1602.9 1644.8 1601 1644.8 1601C1646.8 1604.4 1648.7 1607.7 1650.4 1611.2C1651.9 1614.2 1653.7 1617.4 1654.2 1620.6C1654.6 1623.6 1653.9 1626.9 1653.2 1629.9C1652.7 1632.2 1651.5 1634.3 1650.4 1636.4C1656.6 1638.9 1662.7 1641.4 1669.1 1642C1678.2 1642.9 1688.2 1643.1 1697 1641C1703.7 1639.4 1709.6 1635.1 1715.6 1630.8C1709.7 1627.8 1703.8 1624.7 1698.9 1620.6C1694.5 1617 1691 1612.2 1687.7 1607.5C1683.4 1601.3 1679.7 1594.7 1676 1588C1676 1588 1660 1565 1660 1565C1660 1565 1640 1553 1640 1553C1640 1553 1621.6 1553 1621.6 1553Z" fill="#ffffff" stroke="#232d30" stroke-width="5" stroke-linejoin="round" stroke-linecap="round"/>
<path d="M1602.9 1521.8C1603.9 1516.1 1604.3 1509.3 1607.6 1505C1611.4 1500 1618.2 1496.2 1624.3 1493.8C1632.4 1490.6 1642.5 1491.9 1650.4 1488.3C1657.5 1485.1 1663.3 1478.9 1669.1 1473.4C1675.8 1467.1 1680.8 1458.9 1687.7 1452.9C1693.2 1448 1699.6 1443.6 1706.3 1440.7C1712.6 1438 1720 1436.1 1726.8 1436.1C1733.6 1436.1 1740.6 1438.6 1747.3 1440.7C1755.5 1443.3 1763.2 1449 1771.5 1450.1C1779.3 1451.2 1787.7 1448.4 1795.8 1447.3C1804.5 1446.2 1813.3 1443.2 1821.9 1443.5C1830.6 1443.8 1840.2 1445.4 1847.9 1449.1C1854.4 1452.2 1860.8 1458 1864.7 1464C1867.7 1468.6 1868.9 1475.3 1868.4 1480.8C1867.7 1487.7 1865.2 1495.7 1861 1501.3C1855.9 1508.1 1845.8 1511.4 1840.5 1518.1C1836.5 1523.2 1835 1530.3 1833 1536.7C1830.7 1544 1831 1552.6 1827.4 1559.1C1824.1 1565 1818.4 1570.6 1812.5 1574C1806 1577.7 1797.7 1580.2 1790.2 1580.5C1781 1580.8 1771.5 1577.4 1762.2 1575.8C1752.9 1574.3 1743.2 1570.1 1734.3 1571.2C1727.6 1572 1722 1578.4 1715.6 1581.4C1709.6 1584.3 1703.4 1587.1 1697 1588.9C1691 1590.6 1684.3 1592.4 1678.4 1591.7C1673.8 1591.2 1668.5 1588.5 1665.3 1585.2C1662.2 1582 1661.2 1576.6 1659.7 1572.1C1658.4 1568.2 1657.7 1564.1 1657 1560C1651.6 1561.3 1646.2 1562.6 1641.1 1561.9C1635.3 1561.1 1629.7 1558 1624.3 1555.3C1619.1 1552.7 1613.3 1550.1 1609.4 1546C1606.2 1542.6 1604.1 1537.6 1602.9 1533C1602 1529.5 1602.3 1525.4 1602.9 1521.8Z" fill="#232d30"/>
<path d="M1606.3 1556L1623 1557.4L1619.2 1575.2L1609.3 1569Z" fill="none" stroke="#232d30" stroke-width="4.4" stroke-linejoin="round" stroke-linecap="round"/>
<path d="M1649 1574L1654 1575.5" stroke="#232d30" stroke-width="4" stroke-linecap="round" fill="none"/>
<circle cx="1654.2" cy="1582.6" r="3" fill="#232d30"/>
<path d="M1541 1958C1540 1965.4 1539 1972.8 1540 1980C1541.8 1992.6 1545.7 2005 1549.3 2017.3C1553.8 2032.9 1559 2048.4 1564.2 2063.8C1569.5 2079.4 1575.2 2095 1581 2110.4C1583.9 2118 1586.7 2125.6 1590.3 2132.8C1592.3 2136.9 1595.1 2140.7 1597.8 2144.5C1609.9 2145.5 1621.9 2146.4 1633.2 2144.9C1636.8 2144.4 1641 2141.3 1642.5 2138.4C1643.8 2136 1641.8 2132.1 1641.5 2129C1639.9 2110.4 1638 2091.8 1636.9 2073.2C1635.8 2054.6 1633.9 2035.8 1635 2017.3C1635.8 2004.7 1639.7 1992.4 1642.5 1980C1644.7 1969.9 1647.4 1960 1650 1950C1650 1950 1560 1940 1560 1940C1560 1940 1541 1958 1541 1958Z" fill="#ffffff" stroke="#232d30" stroke-width="5" stroke-linejoin="round" stroke-linecap="round"/>
<path d="M1596.9 1840.5C1569.1 1843.1 1541.3 1845.7 1514 1850.8C1497.1 1854 1479.7 1858 1464.4 1865.3C1452.1 1871.1 1439.9 1880 1431.3 1890.2C1424.7 1898 1421.3 1909.1 1418.8 1919.2C1416.5 1928.4 1417.1 1938.5 1416.8 1948.1C1416.5 1958.7 1415.8 1969.5 1417 1980C1418.4 1992.5 1422 2004.9 1424.5 2017.3C1428.2 2035.9 1431.3 2054.7 1435.6 2073.2C1440 2091.9 1445.2 2110.5 1450.6 2129C1453.3 2138.4 1456.3 2147.9 1459.9 2157C1461.1 2160.1 1463.1 2162.8 1465 2165.5C1465 2165.5 1523.2 2166.3 1523.2 2166.3C1522.5 2163.9 1521.7 2161.4 1521.4 2158.9C1518.6 2136.6 1515.9 2114.2 1513.9 2091.8C1512.2 2073.2 1510.8 2054.5 1510.2 2035.9C1509.8 2023.5 1509.9 2010.9 1511.1 1998.6C1511.7 1992.3 1512.8 1985.5 1515.8 1980C1519.3 1973.5 1524.5 1966.8 1530.6 1962.6C1539.2 1956.8 1549.6 1953.4 1560 1950C1560 1950 1640 1900 1640 1900C1640 1900 1596.9 1840.5 1596.9 1840.5Z" fill="#ffffff" stroke="#232d30" stroke-width="5" stroke-linejoin="round" stroke-linecap="round"/>
<path d="M1481 2167L1487 2196L1489 2214L1517 2214L1512.5 2167Z" fill="#ffffff" stroke="#232d30" stroke-width="5" stroke-linejoin="round" stroke-linecap="round"/>
<path d="M1604 2146L1606 2172L1616.4 2188.7L1641 2174L1632 2146Z" fill="#ffffff" stroke="#232d30" stroke-width="5" stroke-linejoin="round" stroke-linecap="round"/>
<path d="M1416.1 2227.8C1418.2 2223.1 1421.9 2217.8 1426.3 2214.8C1434.6 2209.1 1444.9 2205.9 1454.3 2201.7C1462.9 2197.8 1472 2192 1480.4 2190.6C1483.1 2190.1 1486.3 2193.6 1487.8 2196.1C1490 2199.8 1490.8 2204.5 1491.5 2209.2C1491.5 2209.2 1519.5 2199.9 1519.5 2199.9C1521.7 2204.1 1524 2208.4 1525.1 2212.9C1526.5 2218.3 1528 2224.5 1527 2229.7C1526.2 2233.8 1523.6 2239.9 1519.5 2240.9C1502.5 2245.1 1482.2 2245.5 1463.6 2245.5C1451.1 2245.5 1438.4 2243.5 1426.3 2240.9C1422.8 2240.1 1419 2237.9 1417 2235.3C1415.6 2233.5 1415.1 2229.9 1416.1 2227.8Z" fill="#1fb5b8" stroke="#232d30" stroke-width="5" stroke-linejoin="round" stroke-linecap="round"/>
<path d="M1430 2232.5C1443.3 2233.5 1456.7 2234.4 1470 2234C1485 2233.5 1499.9 2231.6 1514.8 2229.7" fill="none" stroke="#232d30" stroke-width="5" stroke-linejoin="round" stroke-linecap="round"/>
<path d="M1550.2 2220.4C1548.9 2222.9 1550.9 2227.7 1553 2229.7C1556.2 2232.7 1561.5 2235.1 1566.1 2235.3C1575.2 2235.7 1584.9 2233.6 1594 2231.5C1606.6 2228.6 1619.7 2225.8 1631.3 2220.4C1639.6 2216.5 1647.7 2210.3 1653.7 2203.6C1656.7 2200.3 1659.3 2194.6 1658.3 2190.6C1656.8 2184.1 1651.5 2178 1646.2 2171.9C1646.2 2171.9 1616.4 2188.7 1616.4 2188.7C1615.1 2183.8 1613.8 2179 1610.8 2175.7C1608.2 2172.8 1602.6 2168.6 1599.6 2170.1C1593.9 2172.9 1590.1 2182.9 1584.7 2188.7C1579 2194.7 1572.3 2199.8 1566.1 2205.5C1560.8 2210.4 1553.2 2214.8 1550.2 2220.4Z" fill="#1fb5b8" stroke="#232d30" stroke-width="5" stroke-linejoin="round" stroke-linecap="round"/>
<path d="M1565.2 2224.1C1580.6 2222.6 1595.9 2221 1610 2216C1622.9 2211.4 1634.6 2203.3 1646.2 2195.2" fill="none" stroke="#232d30" stroke-width="5" stroke-linejoin="round" stroke-linecap="round"/>
<path d="M1481.4 1945C1481.3 1938.4 1481.2 1931.8 1482.8 1925.7C1484.4 1919.8 1487.6 1914.2 1491 1909.1C1496.8 1900.4 1502.8 1891.4 1510.4 1884.3C1518.5 1876.7 1528.2 1870.2 1538 1865C1546.6 1860.5 1556.2 1857.9 1565.6 1855.3C1574.6 1852.8 1584 1851.9 1593.2 1849.8C1602.4 1847.7 1612.2 1846.5 1620.8 1842.9C1628.7 1839.6 1636.4 1834.7 1642.9 1829.1C1649.3 1823.6 1655.6 1817.2 1659.5 1809.8C1664.4 1800.6 1667.2 1789.8 1669.1 1779.4C1671.6 1765.9 1671.6 1751.8 1672.7 1738C1673.4 1728.8 1673 1719.4 1674.6 1710.4C1675.9 1702.9 1678.1 1695.1 1681.5 1688.3C1685 1681.3 1689.9 1674.6 1695.3 1669C1700 1664.1 1705.8 1659.5 1711.9 1656.6C1717.8 1653.8 1724.5 1652.9 1731.2 1651.9L1836.5 1651.9A49 49 0 0 1 1885.8 1701L1885.8 1862A119 97.4 0 0 1 1767 1959.4L1494 1959.4Q1481.4 1959.4 1481.4 1945Z" fill="#ffe06c"/>
<rect x="1685" y="1950" width="27" height="282" fill="#ffe06c"/>
<path d="M1574 2238L1685 2228L1712 2228L1823 2234L1823 2250L1574 2250Z" fill="#ffe06c"/>
<path d="M1774 1697.2C1766.9 1696.8 1759.9 1696.4 1753.3 1698C1745.6 1699.9 1737.1 1702.7 1731.2 1707.6C1726.5 1711.5 1723.5 1718.2 1721.6 1724.2C1718.9 1732.9 1718.6 1742.6 1717.4 1751.8C1716.3 1761 1716.3 1770.3 1714.7 1779.4C1712.6 1791.5 1711.2 1804.3 1706.4 1815.3C1702 1825.4 1694.8 1835.1 1687 1842.9C1678.3 1851.6 1667.6 1859.1 1656.7 1865C1645.5 1871.1 1633 1874.9 1620.8 1878.8C1610 1882.2 1598.3 1883.1 1587.7 1887C1578.1 1890.5 1568.4 1895.1 1560 1900.9C1551.8 1906.6 1544.9 1914.1 1538 1921.6" fill="none" stroke="#ffffff" stroke-width="5" stroke-linejoin="round" stroke-linecap="round"/>
<path d="M1505.5 1763C1494.7 1760.6 1483.8 1758.1 1472.9 1756.5C1463 1755 1452.8 1753.6 1443 1753.7C1440.7 1753.7 1437.4 1755.4 1436.6 1757C1435.9 1758.3 1436.8 1761.8 1438.5 1762.5C1445.8 1765.7 1454.7 1767.1 1463.6 1768.6C1459.9 1770.1 1456.1 1771.6 1454.3 1774.2C1453 1776 1452.8 1779.9 1454.3 1781.6C1457.8 1785.5 1463.9 1788.6 1469.2 1790.9C1474.5 1793.2 1480.5 1796 1486 1795.6C1492.6 1795.1 1499 1791.5 1505.5 1788C1505.5 1788 1505.5 1763 1505.5 1763Z" fill="#ffffff" stroke="#232d30" stroke-width="5" stroke-linejoin="round" stroke-linecap="round"/>
</svg>
<span class="t" id="t1" style="left:2263.5px;top:371px;font-size:123.5px;line-height:123.5px;font-weight:700;color:#232d30;transform:scaleX(1.0327);-webkit-text-stroke:3px #232d30;">Trotz Herausforderun-</span>
<span class="t" id="t2" style="left:2259.4px;top:508px;font-size:123.5px;line-height:123.5px;font-weight:700;color:#232d30;transform:scaleX(1.0199);-webkit-text-stroke:3px #232d30;">gen stellen Startups</span>
<span class="t" id="t3" style="left:2265.5px;top:646px;font-size:123.5px;line-height:123.5px;font-weight:700;color:#232d30;transform:scaleX(1.0315);-webkit-text-stroke:3px #232d30;">weiter ein</span>
<span class="t" id="n1" style="left:1098.3px;top:456px;font-size:212px;line-height:212px;font-weight:700;color:#875ad6;transform:scaleX(1.0367);-webkit-text-stroke:7px #875ad6;">89 %</span>
<span class="t" id="s1" style="left:1091.7px;top:720.2px;font-size:68px;line-height:68px;font-weight:700;color:#875ad6;font-style:italic;transform:scaleX(1.0912);-webkit-text-stroke:3.5px #875ad6;">der Unternehmen</span>
<span class="t" id="s2" style="left:1091.9px;top:800.7px;font-size:68px;line-height:68px;font-weight:700;color:#875ad6;font-style:italic;transform:scaleX(1.0546);-webkit-text-stroke:3.5px #875ad6;">planen im kommenden</span>
<span class="t" id="s3" style="left:1090.8px;top:882.7px;font-size:68px;line-height:68px;font-weight:700;color:#875ad6;font-style:italic;transform:scaleX(1.1114);-webkit-text-stroke:3.5px #875ad6;">Jahr mit Neueinstel-</span>
<span class="t" id="s4" style="left:1091.7px;top:963.7px;font-size:68px;line-height:68px;font-weight:700;color:#875ad6;font-style:italic;transform:scaleX(1.0621);-webkit-text-stroke:3.5px #875ad6;">lungen.</span>
<span class="t" id="pg" style="left:3699.5px;top:2086.4px;font-size:42px;line-height:42px;font-weight:400;color:#80606c;transform:scaleX(0.8499);">10</span>
<span class="t" id="b11a" style="left:2420.5px;top:876.5px;font-size:49px;line-height:49px;font-weight:400;color:#232d30;transform:scaleX(1.1327);">Auch in der aktuellen Wirtschaftslage:</span>
<span class="t" id="b11b" style="left:3360.6px;top:877.1px;font-size:47.5px;line-height:47.5px;font-weight:700;color:#875ad6;transform:scaleX(1.1332);-webkit-text-stroke:1.4px #875ad6;">Startups</span>
<span class="t" id="b12a" style="left:2419px;top:948.1px;font-size:47.5px;line-height:47.5px;font-weight:700;color:#875ad6;transform:scaleX(1.0899);-webkit-text-stroke:1.4px #875ad6;">und Scaleups bleiben optimistisch</span>
<span class="t" id="b12b" style="left:3281.6px;top:947.5px;font-size:49px;line-height:49px;font-weight:400;color:#232d30;transform:scaleX(1.1309);">und wollen</span>
<span class="t" id="b13" style="left:2421.6px;top:1018.5px;font-size:49px;line-height:49px;font-weight:400;color:#232d30;transform:scaleX(1.1284);">weiter wachsen.</span>
<span class="t" id="b21a" style="left:2416.1px;top:1160.5px;font-size:49px;line-height:49px;font-weight:400;color:#232d30;transform:scaleX(1.0912);">Die</span>
<span class="t" id="b21b" style="left:2510.6px;top:1161.1px;font-size:47.5px;line-height:47.5px;font-weight:700;color:#875ad6;transform:scaleX(1.1117);-webkit-text-stroke:1.4px #875ad6;">durchschnittlich geplante Anzahl</span>
<span class="t" id="b21c" style="left:3350.6px;top:1160.5px;font-size:49px;line-height:49px;font-weight:400;color:#232d30;transform:scaleX(1.1393);">neuer</span>
<span class="t" id="b22a" style="left:2418.2px;top:1231.5px;font-size:49px;line-height:49px;font-weight:400;color:#232d30;transform:scaleX(1.1420);">Stellen ist aber</span>
<span class="t" id="b22b" style="left:2800.3px;top:1232.1px;font-size:47.5px;line-height:47.5px;font-weight:700;color:#875ad6;transform:scaleX(1.1294);-webkit-text-stroke:1.4px #875ad6;">leicht rückläufig</span>
<span class="t" id="b22c" style="left:3221.6px;top:1231.5px;font-size:49px;line-height:49px;font-weight:400;color:#232d30;transform:scaleX(1.1202);">und passt sich</span>
<span class="t" id="b23" style="left:2418.3px;top:1302.5px;font-size:49px;line-height:49px;font-weight:400;color:#232d30;transform:scaleX(1.1143);">dem geänderten Finanzierungsumfeld an.</span>
<span class="t" id="b31" style="left:2416px;top:1444.5px;font-size:49px;line-height:49px;font-weight:400;color:#232d30;transform:scaleX(1.1302);">Insgesamt werden Einstellungsentscheidungen</span>
<span class="t" id="b32a" style="left:2418.2px;top:1515.5px;font-size:49px;line-height:49px;font-weight:400;color:#232d30;transform:scaleX(1.1481);">damit strategischer und noch</span>
<span class="t" id="b32b" style="left:3151.3px;top:1516.1px;font-size:47.5px;line-height:47.5px;font-weight:700;color:#875ad6;transform:scaleX(1.1199);-webkit-text-stroke:1.4px #875ad6;">klarer an Um-</span>
<span class="t" id="b33a" style="left:2420.1px;top:1587.1px;font-size:47.5px;line-height:47.5px;font-weight:700;color:#875ad6;transform:scaleX(1.1289);-webkit-text-stroke:1.4px #875ad6;">satzpotenzialen ausgerichtet</span>
<span class="t" id="b33b" style="left:3152.3px;top:1586.5px;font-size:49px;line-height:49px;font-weight:400;color:#232d30;transform:scaleX(1.1667);">.</span>
</body></html>
